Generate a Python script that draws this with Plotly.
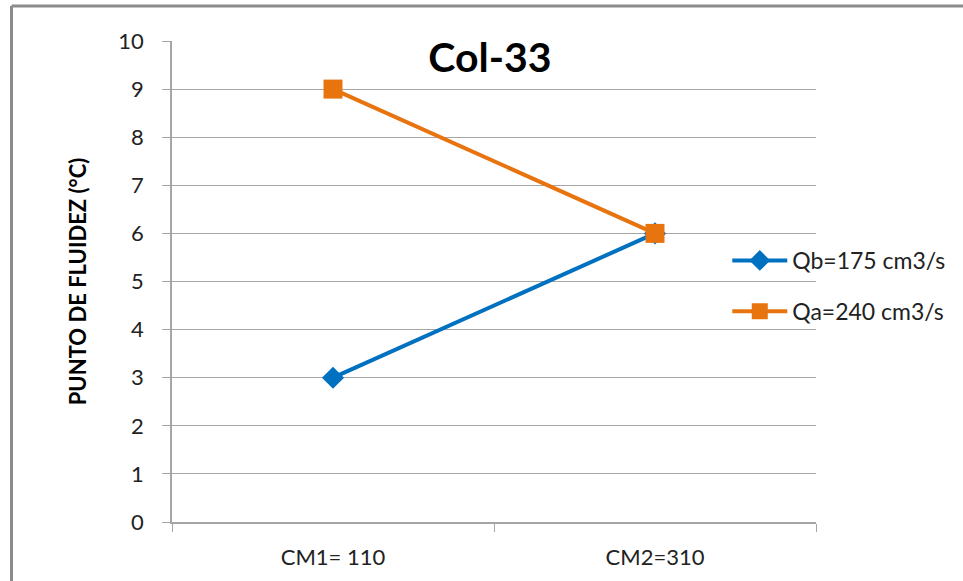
import plotly.graph_objects as go

categories = ["CM1= 110", "CM2=310"]
qb_values = [3, 6]
qa_values = [9, 6]
qb_name = "Qb=175 cm3/s"
qa_name = "Qa=240 cm3/s"
y_ticks = list(range(0, 11))

FONT = "Lato, Carlito, Liberation Sans, sans-serif"
GRID = "#A6A6A6"

fig = go.Figure()
fig.add_trace(go.Scatter(
    x=categories, y=qb_values, name=qb_name, mode="lines+markers", legendgroup="b",
    line=dict(color="#0070C0", width=4),
    marker=dict(symbol="diamond", size=17, color="#0070C0"),
))
fig.add_trace(go.Scatter(
    x=categories, y=qa_values, name=qa_name, mode="lines+markers", legendgroup="a",
    line=dict(color="#E8740F", width=4),
    marker=dict(symbol="square", size=19, color="#E8740F"),
))

fig.update_layout(
    width=963, height=581,
    margin=dict(l=172, r=145, t=41, b=59),
    paper_bgcolor="white", plot_bgcolor="white",
    font=dict(family=FONT, size=22, color="#222222"),
    title=dict(text="<b>Col-33</b>", x=490 / 963, xref="container",
               y=1 - 58 / 581, yref="container", yanchor="middle", xanchor="center",
               font=dict(size=41, color="black", family=FONT)),
    showlegend=True,
    legend=dict(x=(729 - 172) / 646, xanchor="left", y=(522 - 286) / 481, yanchor="middle",
                bgcolor="rgba(0,0,0,0)", font=dict(size=23, color="#222222"),
                itemwidth=55, tracegroupgap=18),
    xaxis=dict(
        type="category", range=[-0.5, 1.5],
        showline=True, linecolor=GRID, linewidth=1.5,
        ticks="outside", tickson="boundaries", ticklen=8, tickcolor=GRID,
        showgrid=False, ticklabelstandoff=15,
        tickfont=dict(size=22, color="#222222"),
    ),
    yaxis=dict(
        range=[0, 10], tickvals=y_ticks, showline=True, linecolor=GRID, linewidth=1.5,
        ticks="outside", ticklen=8, tickcolor=GRID,
        showgrid=True, gridcolor=GRID, gridwidth=1.2, zeroline=False,
        ticklabelstandoff=14,
        tickfont=dict(size=22, color="#222222"),
        title=dict(text="<b>PUNTO DE FLUIDEZ (°C)</b>", standoff=26,
                   font=dict(size=22, color="black")),
    ),
)

# outer chart border (only top and left visible in the picture)
px0 = (11 - 172) / 646
py_top = 1 + (41 - 6) / 481
fig.add_shape(type="line", xref="paper", yref="paper", x0=px0, x1=2, y0=py_top, y1=py_top,
              line=dict(color="#8C8C8C", width=3))
fig.add_shape(type="line", xref="paper", yref="paper", x0=px0, x1=px0, y0=py_top, y1=-2,
              line=dict(color="#8C8C8C", width=3))

fig.write_html("out.html")
